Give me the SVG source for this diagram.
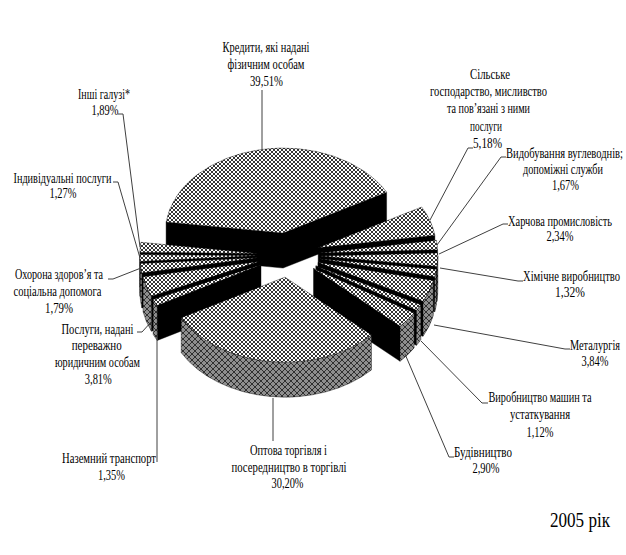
<svg xmlns="http://www.w3.org/2000/svg" width="626" height="555" viewBox="0 0 626 555">
<style>
.top{fill:url(#ptop);stroke:#000;stroke-width:0.4}
.wall{fill:url(#pwall);stroke:#000;stroke-width:0.4}
.face{fill:#000;stroke:#000;stroke-width:0.4}
.lbl{font-family:"Liberation Serif","Times New Roman",serif;font-size:14px;fill:#000;text-anchor:middle}
.yr{font-family:"Liberation Serif","Times New Roman",serif;font-size:20px;fill:#000;text-anchor:middle}
.ld{fill:none;stroke:#404040;stroke-width:1}
</style>
<defs>
<pattern id="ptop" width="4" height="4" patternUnits="userSpaceOnUse">
<rect width="4" height="4" fill="#fff"/>
<path d="M0,0 L4,4 M4,0 L0,4" stroke="#111" stroke-width="0.85"/>
</pattern>
<pattern id="pwall" width="6" height="6" patternUnits="userSpaceOnUse">
<rect width="6" height="6" fill="#8e8e8e"/>
<path d="M0,0 L6,6 M6,0 L0,6" stroke="#262626" stroke-width="0.9"/>
</pattern>
</defs>
<rect width="626" height="555" fill="#fff"/>

<g id="slice-credits">
<polygon class="face" points="166.1,222 283.1,233.05 386.6,192.2 386.6,227.2 283.1,268.05 166.1,257"/>
<path class="top" d="M283.1,233.05 L386.6,192.2 A118,85 0 0 0 166.1,222 Z"/>
<text class="lbl" transform="translate(266,51.5) scale(0.74,1)" textLength="117.6" lengthAdjust="spacingAndGlyphs">Кредити, які надані</text>
<text class="lbl" transform="translate(266,69) scale(0.74,1)" textLength="104" lengthAdjust="spacingAndGlyphs">фізичним особам</text>
<text class="lbl" transform="translate(266.5,86) scale(0.74,1)" textLength="44.6" lengthAdjust="spacingAndGlyphs">39,51%</text>
</g>

<g id="slice-other">
<polygon class="face" points="257.88,253.4 139.89,252.36 139.89,287.36 257.88,288.4"/>
<path class="top" d="M257.88,253.4 L140.89,242.31 A118,85 0 0 0 139.89,252.36 Z"/>
<text class="lbl" transform="translate(104,98.5) scale(0.74,1)" textLength="70.3" lengthAdjust="spacingAndGlyphs">Інші галузі*</text>
<text class="lbl" transform="translate(105,115) scale(0.74,1)" textLength="36.5" lengthAdjust="spacingAndGlyphs">1,89%</text>
</g>

<g id="slice-individual">
<polygon class="face" points="257.81,255.62 140.08,261.4 140.08,296.4 257.81,290.62"/>
<path class="wall" d="M139.81,255.62 A118,85 0 0 0 140.08,261.4 L140.08,296.4 A118,85 0 0 1 139.81,290.62 Z"/>
<path class="top" d="M257.81,255.62 L139.82,254.58 A118,85 0 0 0 140.08,261.4 Z"/>
<text class="lbl" transform="translate(62.5,183) scale(0.74,1)" textLength="132.4" lengthAdjust="spacingAndGlyphs">Індивідуальні послуги</text>
<text class="lbl" transform="translate(63,197.5) scale(0.74,1)" textLength="36.5" lengthAdjust="spacingAndGlyphs">1,27%</text>
</g>

<g id="slice-health">
<polygon class="face" points="258.04,257.76 141.94,272.96 141.94,307.96 258.04,292.76"/>
<path class="wall" d="M140.31,263.54 A118,85 0 0 0 141.94,272.96 L141.94,307.96 A118,85 0 0 1 140.31,298.54 Z"/>
<path class="top" d="M258.04,257.76 L140.31,263.54 A118,85 0 0 0 141.94,272.96 Z"/>
<text class="lbl" transform="translate(59,279) scale(0.74,1)" textLength="118.9" lengthAdjust="spacingAndGlyphs">Охорона здоров’я та</text>
<text class="lbl" transform="translate(57.5,295.5) scale(0.74,1)" textLength="118.9" lengthAdjust="spacingAndGlyphs">соціальна допомога</text>
<text class="lbl" transform="translate(59,313) scale(0.74,1)" textLength="37.8" lengthAdjust="spacingAndGlyphs">1,79%</text>
</g>

<g id="slice-legal">
<polygon class="face" points="259.18,261.59 151.38,296.16 151.38,331.16 259.18,296.59"/>
<path class="wall" d="M143.08,276.79 A118,85 0 0 0 151.38,296.16 L151.38,331.16 A118,85 0 0 1 143.08,311.79 Z"/>
<path class="top" d="M259.18,261.59 L143.08,276.79 A118,85 0 0 0 151.38,296.16 Z"/>
<text class="lbl" transform="translate(97.5,333.5) scale(0.74,1)" textLength="97.3" lengthAdjust="spacingAndGlyphs">Послуги, надані</text>
<text class="lbl" transform="translate(96.7,350) scale(0.74,1)" textLength="67.6" lengthAdjust="spacingAndGlyphs">переважно</text>
<text class="lbl" transform="translate(97.5,367) scale(0.74,1)" textLength="114.9" lengthAdjust="spacingAndGlyphs">юридичним особам</text>
<text class="lbl" transform="translate(98.3,383.5) scale(0.74,1)" textLength="36.5" lengthAdjust="spacingAndGlyphs">3,81%</text>
</g>

<g id="slice-land-transport">
<polygon class="face" points="261,264.88 157.3,305.44 157.3,340.44 261,299.88"/>
<path class="wall" d="M153.2,299.45 A118,85 0 0 0 157.3,305.44 L157.3,340.44 A118,85 0 0 1 153.2,334.45 Z"/>
<path class="top" d="M261,264.88 L153.2,299.45 A118,85 0 0 0 157.3,305.44 Z"/>
<text class="lbl" transform="translate(109,463) scale(0.74,1)" textLength="127" lengthAdjust="spacingAndGlyphs">Наземний транспорт</text>
<text class="lbl" transform="translate(111.5,480) scale(0.74,1)" textLength="36.5" lengthAdjust="spacingAndGlyphs">1,35%</text>
</g>

<g id="slice-agriculture">
<polygon class="face" points="318.17,247.86 434.85,235.19 434.85,270.19 318.17,282.86"/>
<path class="top" d="M318.17,247.86 L434.85,235.19 A118,85 0 0 0 421.67,207.04 Z"/>
<text class="lbl" transform="translate(490,79) scale(0.74,1)" textLength="54" lengthAdjust="spacingAndGlyphs">Сільське</text>
<text class="lbl" transform="translate(488.5,96) scale(0.74,1)" textLength="158.1" lengthAdjust="spacingAndGlyphs">господарство, мисливство</text>
<text class="lbl" transform="translate(488.5,113.3) scale(0.74,1)" textLength="112.2" lengthAdjust="spacingAndGlyphs">та пов’язані з ними</text>
<text class="lbl" transform="translate(486,130.7) scale(0.74,1)" textLength="43.2" lengthAdjust="spacingAndGlyphs">послуги</text>
<text class="lbl" transform="translate(487.5,148) scale(0.74,1)" textLength="39.2" lengthAdjust="spacingAndGlyphs">5,18%</text>
</g>

<g id="slice-hydrocarbons">
<polygon class="face" points="319.67,252.93 437.59,249.86 437.59,284.86 319.67,287.93"/>
<path class="top" d="M319.67,252.93 L437.59,249.86 A118,85 0 0 0 436.35,240.26 Z"/>
<text class="lbl" transform="translate(564.5,157.5) scale(0.74,1)" textLength="158.1" lengthAdjust="spacingAndGlyphs">Видобування вуглеводнів;</text>
<text class="lbl" transform="translate(563,173.5) scale(0.74,1)" textLength="108.1" lengthAdjust="spacingAndGlyphs">допоміжні служби</text>
<text class="lbl" transform="translate(565.5,190) scale(0.74,1)" textLength="36.5" lengthAdjust="spacingAndGlyphs">1,67%</text>
</g>

<g id="slice-food">
<polygon class="face" points="319.77,255.97 436.88,266.39 436.88,301.39 319.77,290.97"/>
<path class="wall" d="M436.88,266.39 A118,85 0 0 0 437.77,255.97 L437.77,290.97 A118,85 0 0 1 436.88,301.39 Z"/>
<path class="top" d="M319.77,255.97 L436.88,266.39 A118,85 0 0 0 437.69,252.9 Z"/>
<text class="lbl" transform="translate(560,225.5) scale(0.74,1)" textLength="140.5" lengthAdjust="spacingAndGlyphs">Харчова промисловість</text>
<text class="lbl" transform="translate(560,241) scale(0.74,1)" textLength="36.5" lengthAdjust="spacingAndGlyphs">2,34%</text>
</g>

<g id="slice-chemical">
<polygon class="face" points="319.36,258.73 434.7,276.67 434.7,311.67 319.36,293.73"/>
<path class="wall" d="M434.7,276.67 A118,85 0 0 0 436.47,269.15 L436.47,304.15 A118,85 0 0 1 434.7,311.67 Z"/>
<path class="top" d="M319.36,258.73 L434.7,276.67 A118,85 0 0 0 436.47,269.15 Z"/>
<text class="lbl" transform="translate(571.5,281) scale(0.74,1)" textLength="131.1" lengthAdjust="spacingAndGlyphs">Хімічне виробництво</text>
<text class="lbl" transform="translate(570,297) scale(0.74,1)" textLength="40.5" lengthAdjust="spacingAndGlyphs">1,32%</text>
</g>

<g id="slice-metallurgy">
<polygon class="face" points="317.99,262.51 423,301.28 423,336.28 317.99,297.51"/>
<path class="wall" d="M423,301.28 A118,85 0 0 0 433.33,280.45 L433.33,315.45 A118,85 0 0 1 423,336.28 Z"/>
<path class="top" d="M317.99,262.51 L423,301.28 A118,85 0 0 0 433.33,280.45 Z"/>
<text class="lbl" transform="translate(595,350) scale(0.74,1)" textLength="67.6" lengthAdjust="spacingAndGlyphs">Металургія</text>
<text class="lbl" transform="translate(595,366) scale(0.74,1)" textLength="36.5" lengthAdjust="spacingAndGlyphs">3,84%</text>
</g>

<g id="slice-machinery">
<polygon class="face" points="315.83,265.93 416.44,310.34 416.44,345.34 315.83,300.93"/>
<path class="wall" d="M416.44,310.34 A118,85 0 0 0 420.84,304.7 L420.84,339.7 A118,85 0 0 1 416.44,345.34 Z"/>
<path class="top" d="M315.83,265.93 L416.44,310.34 A118,85 0 0 0 420.84,304.7 Z"/>
<text class="lbl" transform="translate(540,402) scale(0.74,1)" textLength="139.2" lengthAdjust="spacingAndGlyphs">Виробництво машин та</text>
<text class="lbl" transform="translate(540,419) scale(0.74,1)" textLength="81.1" lengthAdjust="spacingAndGlyphs">устаткування</text>
<text class="lbl" transform="translate(540,436.5) scale(0.74,1)" textLength="36.5" lengthAdjust="spacingAndGlyphs">1,12%</text>
</g>

<g id="slice-construction">
<polygon class="face" points="313.51,268.48 400.04,326.27 400.04,361.27 313.51,303.48"/>
<path class="wall" d="M400.04,326.27 A118,85 0 0 0 414.12,312.89 L414.12,347.89 A118,85 0 0 1 400.04,361.27 Z"/>
<path class="top" d="M313.51,268.48 L400.04,326.27 A118,85 0 0 0 414.12,312.89 Z"/>
<text class="lbl" transform="translate(483,457) scale(0.74,1)" textLength="78.4" lengthAdjust="spacingAndGlyphs">Будівництво</text>
<text class="lbl" transform="translate(486,473) scale(0.74,1)" textLength="36.5" lengthAdjust="spacingAndGlyphs">2,90%</text>
</g>

<g id="slice-wholesale">
<path class="wall" d="M181.24,317.72 A118,85 0 0 0 371.47,334.95 L371.47,369.95 A118,85 0 0 1 181.24,352.72 Z"/>
<path class="top" d="M284.94,277.16 L181.24,317.72 A118,85 0 0 0 371.47,334.95 Z"/>
<text class="lbl" transform="translate(288.5,455) scale(0.74,1)" textLength="104" lengthAdjust="spacingAndGlyphs">Оптова торгівля і</text>
<text class="lbl" transform="translate(289,471.5) scale(0.74,1)" textLength="155.4" lengthAdjust="spacingAndGlyphs">посередництво в торгівлі</text>
<text class="lbl" transform="translate(287.5,488) scale(0.74,1)" textLength="43.2" lengthAdjust="spacingAndGlyphs">30,20%</text>
</g>

<g id="connectors">
<path class="ld" d="M262,90 L262,149"/>
<path class="ld" d="M473,148 L468,148 L430,220"/>
<path class="ld" d="M506,157 L501,157 L437,245"/>
<path class="ld" d="M508,224 L503,224 L439,254"/>
<path class="ld" d="M523,281 L518,281 L440,268"/>
<path class="ld" d="M570,349 L565,349 L434,325"/>
<path class="ld" d="M488,403 L482,403 L421,341"/>
<path class="ld" d="M454,457 L449,457 L405,354"/>
<path class="ld" d="M118,114 L123,114 L140,247"/>
<path class="ld" d="M113,182 L118,182 L140,258"/>
<path class="ld" d="M108,279 L113,279 L141,268"/>
<path class="ld" d="M137,332 L142,332 L152,321"/>
<path class="ld" d="M157,337 L157,462"/>
<path class="ld" d="M273,398 L273,441"/>
</g>

<g id="caption">
<text class="yr" transform="translate(580,527) scale(0.86,1)" textLength="69.8" lengthAdjust="spacingAndGlyphs">2005 рік</text>
</g>
</svg>
